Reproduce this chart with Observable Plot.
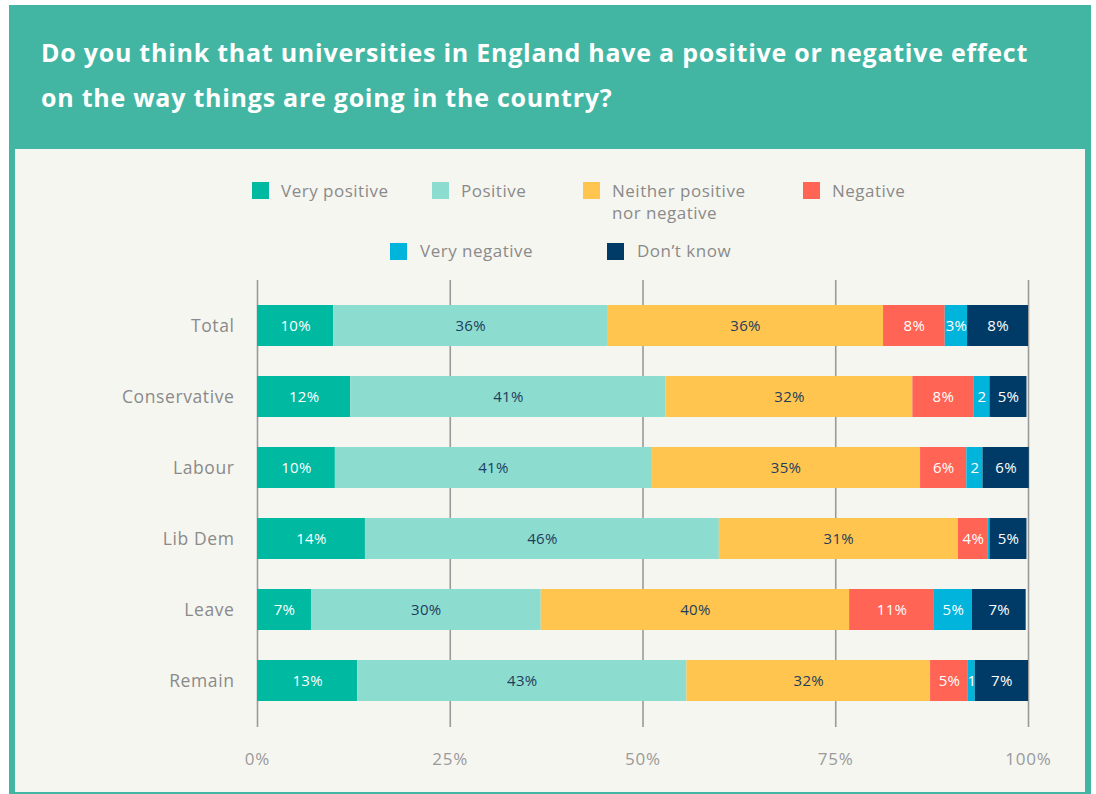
<!DOCTYPE html>
<html>
<head>
<meta charset="utf-8">
<script src="https://cdn.jsdelivr.net/npm/d3@7"></script>
<script src="https://cdn.jsdelivr.net/npm/@observablehq/plot@0.6"></script>
<style>
  html, body { margin: 0; padding: 0; background: #ffffff; }
  #wrap { position: relative; width: 1096px; height: 794px; overflow: hidden; font-family: "Open Sans", Lato, sans-serif; }
  #frame { position: absolute; left: 9px; top: 5px; width: 1082px; height: 789px; background: #42b6a2; }
  #panel { position: absolute; left: 15px; top: 149px; width: 1070px; height: 643px; background: #f6f6f1; }
  #title { position: absolute; left: 41px; top: 30px; color: #ffffff; font-weight: 700; font-size: 25px; line-height: 45px; letter-spacing: 0.75px; white-space: nowrap; }
  .lg { position: absolute; color: #8a8a8a; font-size: 17px; line-height: 22px; letter-spacing: 0.5px; white-space: nowrap; }
  .sw { position: absolute; width: 17px; height: 17px; }
  #chart { position: absolute; left: 15px; top: 257px; }
  #chart svg text { letter-spacing: 0.3px; }
  #chart svg g[aria-label="y-axis tick label"] text { letter-spacing: 0.6px; }
  #chart svg g[aria-label="x-axis tick label"] text { letter-spacing: 0.8px; }
</style>
</head>
<body>
<div id="wrap">
  <div id="frame"></div>
  <div id="panel"></div>
  <div id="title">Do you think that universities in England have a positive or negative effect<br>on the way things are going in the country?</div>
  <div id="legend"></div>
  <div id="chart"></div>
</div>
<script>
// ---- data ----
const groups = ["Total", "Conservative", "Labour", "Lib Dem", "Leave", "Remain"];
const categories = ["Very positive", "Positive", "Neither positive nor negative", "Negative", "Very negative", "Don\u2019t know"];
const colors = ["#00b9a1", "#8ddcd0", "#ffc54f", "#ff6455", "#00b4dc", "#003a66"];

const veryPositive = [9.9, 12.1, 10.1, 14.0, 7.0, 13.0];
const positive     = [35.5, 40.9, 41.0, 45.9, 29.8, 42.7];
const neither      = [35.8, 32.0, 34.9, 31.0, 40.0, 31.6];
const negative     = [8.0, 7.9, 6.0, 3.9, 11.0, 4.9];
const veryNegative = [2.9, 2.1, 2.1, 0.2, 4.9, 0.9];
const dontKnow     = [7.9, 4.8, 6.0, 4.8, 7.0, 6.9];

const veryPositiveLbl = ["10%", "12%", "10%", "14%", "7%", "13%"];
const positiveLbl     = ["36%", "41%", "41%", "46%", "30%", "43%"];
const neitherLbl      = ["36%", "32%", "35%", "31%", "40%", "32%"];
const negativeLbl     = ["8%", "8%", "6%", "4%", "11%", "5%"];
const veryNegativeLbl = ["3%", "2", "2", "", "5%", "1"];
const dontKnowLbl     = ["8%", "5%", "6%", "5%", "7%", "7%"];

const xTicks = [0, 25, 50, 75, 100];
const darkLabelCats = ["Positive", "Neither positive nor negative"];

// ---- build table ----
const seriesValues = [veryPositive, positive, neither, negative, veryNegative, dontKnow];
const seriesLabels = [veryPositiveLbl, positiveLbl, neitherLbl, negativeLbl, veryNegativeLbl, dontKnowLbl];
const rows = [];
groups.forEach((g, gi) => {
  categories.forEach((c, ci) => {
    rows.push({group: g, cat: c, value: seriesValues[ci][gi], label: seriesLabels[ci][gi]});
  });
});

// ---- legend (HTML) ----
const legendItems = [
  {cat: 0, sx: 252, sy: 182, tx: 281, ty: 180, text: "Very positive"},
  {cat: 1, sx: 432, sy: 182, tx: 461, ty: 180, text: "Positive"},
  {cat: 2, sx: 583, sy: 182, tx: 612, ty: 180, text: "Neither positive<br>nor negative"},
  {cat: 3, sx: 803, sy: 182, tx: 832, ty: 180, text: "Negative"},
  {cat: 4, sx: 390, sy: 243, tx: 420, ty: 240, text: "Very negative"},
  {cat: 5, sx: 607, sy: 243, tx: 637, ty: 240, text: "Don\u2019t know"}
];
const legend = document.getElementById("legend");
legendItems.forEach(it => {
  const sw = document.createElement("div");
  sw.className = "sw";
  sw.style.left = it.sx + "px"; sw.style.top = it.sy + "px";
  sw.style.background = colors[it.cat];
  legend.appendChild(sw);
  const t = document.createElement("div");
  t.className = "lg";
  t.style.left = it.tx + "px"; t.style.top = it.ty + "px";
  t.innerHTML = it.text;
  legend.appendChild(t);
});

// ---- chart ----
const chart = Plot.plot({
  width: 1070,
  height: 520,
  marginLeft: 242,
  marginRight: 57,
  marginTop: 23,
  marginBottom: 50,
  style: {background: "transparent", fontFamily: "'Open Sans', Lato, sans-serif"},
  x: {domain: [0, 100]},
  y: {domain: groups, paddingInner: 0.418, paddingOuter: 0.318},
  color: {domain: categories, range: colors},
  marks: [
    Plot.gridX(xTicks, {stroke: "#9a9a9a", strokeOpacity: 1, strokeWidth: 1.6}),
    Plot.barX(rows, Plot.stackX({x: "value", y: "group", fill: "cat", order: null})),
    Plot.text(rows, Plot.stackX({x: "value", y: "group", z: "cat", order: null,
      text: d => darkLabelCats.includes(d.cat) ? d.label : null,
      fill: "#1d3d5e", fontSize: 15})),
    Plot.text(rows, Plot.stackX({x: "value", y: "group", z: "cat", order: null,
      text: d => darkLabelCats.includes(d.cat) ? null : d.label,
      fill: "#ffffff", fontSize: 15})),
    Plot.axisX(xTicks, {tickFormat: d => d + "%", tickSize: 0, tickPadding: 25, fontSize: 17, color: "#9a9a9a", label: null}),
    Plot.axisY({tickSize: 0, tickPadding: 23, fontSize: 17.5, color: "#8a8a8a", label: null})
  ]
});
document.getElementById("chart").appendChild(chart);
</script>
</body>
</html>
